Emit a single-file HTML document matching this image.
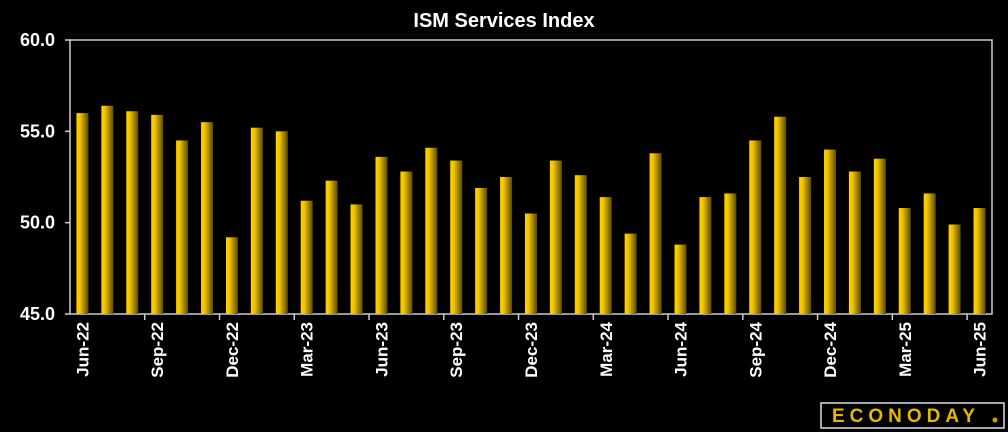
<!DOCTYPE html>
<html><head><meta charset="utf-8"><style>
html,body{margin:0;padding:0;background:#000;width:1008px;height:432px;overflow:hidden}
svg{display:block;font-family:"Liberation Sans",sans-serif}
</style></head><body>
<svg id="c" width="1008" height="432">
<defs><linearGradient id="g" x1="0" x2="1" y1="0" y2="0">
<stop offset="0" stop-color="#ffd200"/><stop offset="0.3" stop-color="#f0c400"/><stop offset="1" stop-color="#5e4a00"/></linearGradient></defs>
<text x="504" y="27" fill="#fff" font-size="20" font-weight="bold" text-anchor="middle">ISM Services Index</text>
<rect x="70" y="40" width="922" height="274" fill="none" stroke="#ccc" stroke-width="1.5"/>
<g id="bars"></g><g id="axes"></g>
<g>
<rect x="821" y="403" width="183" height="25" fill="#000" stroke="#ddd" stroke-width="1.5"/>
<text x="906" y="422" fill="#e6b800" font-size="19" font-weight="bold" text-anchor="middle" letter-spacing="5">ECONODAY</text>
<circle cx="995" cy="420" r="2.5" fill="#c9a000"/>
</g>
</svg>
<script>
const categories=["Jun-22","Jul-22","Aug-22","Sep-22","Oct-22","Nov-22","Dec-22","Jan-23","Feb-23","Mar-23","Apr-23","May-23","Jun-23","Jul-23","Aug-23","Sep-23","Oct-23","Nov-23","Dec-23","Jan-24","Feb-24","Mar-24","Apr-24","May-24","Jun-24","Jul-24","Aug-24","Sep-24","Oct-24","Nov-24","Dec-24","Jan-25","Feb-25","Mar-25","Apr-25","May-25","Jun-25"];
const values=[56.0,56.4,56.1,55.9,54.5,55.5,49.2,55.2,55.0,51.2,52.3,51.0,53.6,52.8,54.1,53.4,51.9,52.5,50.5,53.4,52.6,51.4,49.4,53.8,48.8,51.4,51.6,54.5,55.8,52.5,54.0,52.8,53.5,50.8,51.6,49.9,50.8];
const yTicks=[45,50,55,60];
const yTickLabels=["45.0","50.0","55.0","60.0"];
const NS="http://www.w3.org/2000/svg";
const L=70,R=992,T=40,B=314,yMin=45,yMax=60;
const slot=(R-L)/categories.length;
const x=i=>L+slot*(i+0.5);
const y=v=>B-(v-yMin)/(yMax-yMin)*(B-T);
function mk(t,a,p){const e=document.createElementNS(NS,t);for(const k in a)e.setAttribute(k,a[k]);p.appendChild(e);return e;}
const bars=document.getElementById('bars'),axes=document.getElementById('axes');
values.forEach((v,i)=>{const r=mk('rect',{x:x(i)-6,y:y(v),width:12,height:B-y(v),fill:'url(#g)'},bars);

});
yTicks.forEach((t,i)=>{const e=mk('text',{x:55,y:y(t)+6,fill:'#fff','font-size':18,'font-weight':'bold','text-anchor':'end'},axes);e.textContent=yTickLabels[i];


mk('line',{x1:L-5,x2:L,y1:y(t),y2:y(t),stroke:'#ccc','stroke-width':1.5},axes);});
for(let i=0;i<=categories.length;i+=3){if(i>0&&i<categories.length)mk('line',{x1:L+slot*i,x2:L+slot*i,y1:B,y2:B+6,stroke:'#ccc','stroke-width':1.5},axes);}
categories.forEach((c,i)=>{if(i%3)return;const e=mk('text',{x:0,y:0,fill:'#fff','font-size':17,'font-weight':'bold','text-anchor':'end',transform:`translate(${x(i)+6},${B+8}) rotate(-90)`},axes);e.textContent=c;

});
</script>
</body></html>
